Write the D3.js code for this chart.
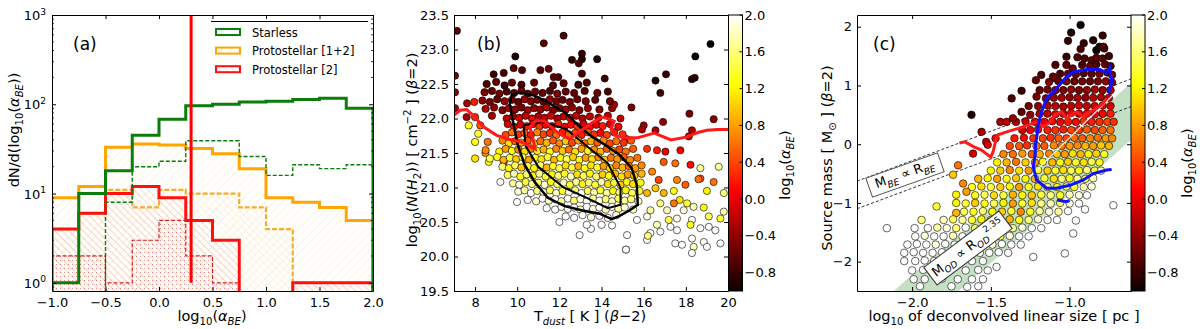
<!DOCTYPE html>
<html>
<head>
<meta charset="utf-8">
<script src="https://cdn.jsdelivr.net/npm/d3@7"></script>
<style>
  body { margin: 0; background: #fff; }
  text { font-family: "DejaVu Sans", sans-serif; }
</style>
</head>
<body>
<svg id="fig" width="1200" height="329"></svg>
<script>
// ---------- panel (a): histograms of log10(alpha_BE) ----------
var binEdges = [-1.0, -0.75, -0.5, -0.25, 0.0, 0.25, 0.5, 0.75, 1.0, 1.25, 1.5, 1.75, 2.0];
var starlessAll = [1, 10, 18, 45, 68, 96, 100, 106, 108, 113, 117, 90];
var starlessSub = [0, 0, 8, 20, 23, 39, 39, 26, 16, 21, 19, 21];
var proto12All = [9, 12, 33, 36, 35, 32, 28, 19, 9, 8, 7, 5];
var proto12Sub = [4, 6, 11, 7, 11, 10, 10, 7, 4, 1, 1, 1];
var proto2All = [4, 6, 10, 12, 9, 5, 3, 0, 0, 1, 1, 1];
var proto2Sub = [2, 2, 1, 3, 5, 2, 1, 0, 0, 0, 0, 0];
var alphaCut = 0.3;
var legendNames = ["Starless", "Protostellar [1+2]", "Protostellar [2]"];
var xTicksA = [-1.0, -0.5, 0.0, 0.5, 1.0, 1.5, 2.0];
var yTicksA = [1, 10, 100, 1000];

// ---------- panel (b): N(H2) vs T_dust ----------
var xTicksB = [8, 10, 12, 14, 16, 18, 20];
var yTicksB = [19.5, 20.0, 20.5, 21.0, 21.5, 22.0, 22.5, 23.0, 23.5];
var redLineB = [[7.0,22.05],[7.3,22.12],[7.6,22.13],[7.9,22.05],[8.4,21.88],[9.0,21.76],[9.6,21.7],[10.2,21.66],
  [10.6,21.6],[10.85,21.56],[10.75,21.7],[10.6,21.88],[10.9,21.97],[11.3,21.96],[11.7,21.85],[12.1,21.76],
  [12.5,21.7],[12.9,21.8],[13.3,21.88],[13.6,21.95],[14.0,22.02],[14.3,22.0],[14.6,21.96],[14.45,21.85],
  [14.6,21.76],[15.05,21.72],[15.7,21.72],[16.5,21.79],[17.3,21.69],[18.0,21.73],[18.6,21.8],[19.0,21.83],
  [19.5,21.84],[20.0,21.84]];
var contourOuterB = [[9.74,22.34],[10.12,22.38],[10.83,22.33],[11.54,22.22],[12.25,22.09],[12.87,21.91],
  [13.44,21.76],[14.15,21.62],[14.86,21.47],[15.43,21.28],[15.67,21.04],[15.72,20.75],[15.34,20.67],
  [14.86,20.59],[14.48,20.54],[13.91,20.62],[13.2,20.66],[12.25,20.73],[11.45,20.85],[10.83,21.08],
  [10.35,21.33],[10.02,21.62],[9.83,21.91],[9.64,22.2],[9.74,22.34]];
var contourInnerB = [[10.3,21.9],[11.2,21.95],[12.3,21.85],[13.3,21.6],[14.3,21.35],[14.9,21.0],[14.9,20.75],
  [14.3,20.7],[13.3,20.85],[12.2,21.0],[11.0,21.3],[10.4,21.6],[10.3,21.9]];
var outliersB = [
  [7.14,23.27,-0.6],[7.05,22.62,-0.5],[7.05,22.38,-0.4],[7.05,22.15,-0.3],[9.91,22.9,-0.9],[8.88,22.64,-0.8],
  [9.36,22.66,-0.7],[9.83,22.73,-0.6],[10.23,22.7,-0.7],[11.26,23.09,-0.6],[12.2,23.2,-0.7],[12.6,22.85,-0.8],
  [13.07,22.94,-0.8],[13.07,22.86,-0.9],[12.92,22.8,-0.7],[11.1,22.7,-0.7],[11.49,22.72,-0.6],[11.73,22.6,-0.6],
  [11.95,22.6,-0.7],[13.07,22.65,-0.7],[13.79,22.86,-0.9],[14.15,22.58,-0.8],[16.56,22.55,-0.9],[17.06,22.64,-0.8],
  [16.79,22.37,-0.8],[18.29,22.57,-0.85],[18.42,22.59,-0.85],[18.45,22.9,-1.0],[19.17,23.08,-1.0],[15.42,22.16,-0.5],
  [18.17,22.07,-0.5],[19.32,21.99,-0.4],[16.92,21.95,-0.4],[16.0,21.9,-0.3],[15.92,21.84,-0.3],[16.56,21.83,-0.3],
  [18.29,21.83,-0.3],[18.14,21.74,-0.2],[14.6,22.2,-0.3],[14.9,22.0,-0.2],[15.2,21.7,-0.1],[7.62,22.22,-0.3],
  [7.96,22.24,0.2],[8.49,21.5,0.8],[8.65,21.37,1.3],[9.36,21.37,0.1],[9.2,21.08,2.0],[9.99,20.79,2.0],
  [12.96,20.31,2.0],[15.16,20.1,2.0],[15.21,20.31,2.0],[12.0,20.5,2.0],[13.5,20.4,2.0],[14.5,20.45,2.0],
  [16.63,21.54,0.2],[17.03,21.52,0.0],[17.74,21.54,0.0],[16.16,21.56,0.3],[16.95,21.37,0.5],[17.5,21.35,0.6],
  [18.22,21.33,0.1],[18.69,21.28,1.7],[19.56,21.3,1.7],[18.69,21.13,0.5],[18.6,21.12,0.6],[19.32,21.08,0.6],
  [17.58,21.11,0.7],[17.98,21.04,0.5],[19.0,20.95,1.2],[19.8,20.92,1.6],[17.43,20.95,1.3],[17.71,20.82,1.1],
  [17.43,20.77,0.6],[18.06,20.77,1.4],[18.37,20.72,1.8],[18.85,20.71,1.3],[19.09,20.58,1.5],[19.64,20.55,1.4],
  [19.8,20.65,1.8],[17.9,20.67,1.9],[18.29,20.53,2.0],[17.58,20.55,1.9],[17.19,20.53,1.5],[17.27,20.43,2.0],
  [17.58,20.38,2.0],[18.22,20.46,1.3],[18.69,20.41,2.0],[19.09,20.43,2.0],[19.4,20.38,2.0],[16.63,20.46,1.8],
  [16.79,20.36,2.0],[16.32,20.34,2.0],[16.16,20.24,2.0],[16.2,20.3,1.6],[17.5,20.19,2.0],[17.82,20.17,2.0],
  [18.29,20.26,2.0],[18.37,20.14,1.8],[18.85,20.21,2.0],[19.0,20.14,2.0],[18.29,20.05,2.0],[19.64,20.19,2.0],
  [15.16,20.1,2.0],[15.68,20.53,2.0],[16.16,20.58,1.9],[16.32,20.67,1.7],[17.11,20.67,1.8],[16.79,20.77,1.6],
  [16.56,20.99,1.0],[16.16,20.92,0.9],[16.95,20.92,0.9],[16.71,21.11,0.4],[16.4,21.23,0.7]];
var cloudB = [
  [8.55,22.5,-0.7],[9.0,22.53,-0.6],[9.4,22.48,-0.8],[9.75,22.52,-0.6],[10.2,22.49,-0.7],[10.8,22.52,-0.6],[11.7,22.48,-0.7],[12.2,22.51,-0.6],[12.9,22.49,-0.8],[13.3,22.52,-0.7],
  [8.45,22.38,-0.5],[8.8,22.4,-0.6],[9.15,22.36,-0.5],[9.5,22.39,-0.7],[9.85,22.37,-0.6],[10.2,22.4,-0.5],[10.5,22.36,-0.6],[10.85,22.39,-0.5],[11.2,22.37,-0.6],[11.55,22.4,-0.7],[11.9,22.36,-0.5],[12.3,22.39,-0.6],[12.7,22.37,-0.6],[13.2,22.4,-0.7],[13.8,22.37,-0.6],[14.3,22.39,-0.7],
  [8.35,22.26,-0.4],[8.7,22.24,-0.5],[9.05,22.28,-0.6],[9.4,22.25,-0.4],[9.75,22.27,-0.5],[10.05,22.24,-0.6],[10.35,22.28,-0.4],[10.65,22.25,-0.5],[10.95,22.27,-0.5],[11.25,22.24,-0.6],[11.55,22.28,-0.4],[11.85,22.25,-0.5],[12.15,22.27,-0.6],[12.5,22.24,-0.5],[12.85,22.28,-0.6],[13.25,22.25,-0.5],[13.7,22.27,-0.6],[14.4,22.25,-0.5],
  [8.5,22.14,-0.3],[8.9,22.16,-0.4],[9.3,22.12,-0.5],[9.6,22.15,-0.3],[9.9,22.13,-0.4],[10.2,22.16,-0.5],[10.5,22.12,-0.3],[10.8,22.15,-0.4],[11.1,22.13,-0.4],[11.4,22.16,-0.3],[11.7,22.12,-0.5],[12.0,22.15,-0.4],[12.3,22.13,-0.3],[12.6,22.16,-0.4],[12.95,22.12,-0.5],[13.35,22.15,-0.4],[13.9,22.13,-0.5],[14.5,22.15,-0.4],
  [7.6,22.02,-0.3],[8.0,22.02,0.3],[8.8,22.04,-0.3],[9.5,22.0,-0.2],[9.8,22.03,-0.3],[10.1,22.01,-0.1],[10.4,22.04,-0.2],[10.7,22.0,0.0],[11.0,22.03,-0.3],[11.3,22.01,-0.2],[11.6,22.04,-0.1],[11.9,22.0,-0.3],[12.2,22.03,-0.2],[12.5,22.01,0.0],[12.8,22.04,-0.2],[13.1,22.0,-0.3],[13.45,22.03,-0.2],[13.85,22.01,-0.3],[14.3,22.04,-0.2],
  [7.7,21.9,1.3],[8.25,21.9,0.5],[9.55,21.92,-0.1],[9.85,21.88,0.1],[10.15,21.91,-0.1],[10.45,21.89,0.2],[10.75,21.92,0.0],[11.05,21.88,0.3],[11.35,21.91,0.1],[11.65,21.89,-0.1],[11.95,21.92,0.2],[12.25,21.88,0.0],[12.55,21.91,0.1],[12.85,21.89,0.3],[13.15,21.92,-0.1],[13.45,21.88,0.1],[13.75,21.91,0.0],[14.05,21.89,0.2],[14.4,21.92,-0.1],[14.8,21.88,0.0],
  [8.15,21.78,1.4],[9.45,21.76,0.4],[9.75,21.8,0.6],[10.05,21.77,0.3],[10.35,21.79,0.5],[10.65,21.76,0.2],[10.95,21.8,0.7],[11.25,21.77,0.4],[11.55,21.79,0.3],[11.85,21.76,0.6],[12.15,21.8,0.2],[12.45,21.77,0.5],[12.75,21.79,0.4],[13.05,21.76,0.2],[13.35,21.8,0.5],[13.65,21.77,0.3],[13.95,21.79,0.1],[14.25,21.76,0.4],[14.6,21.8,0.2],[15.0,21.77,0.3],
  [8.0,21.66,1.3],[8.6,21.66,0.6],[9.3,21.68,0.7],[9.6,21.64,1.1],[9.9,21.67,0.5],[10.2,21.65,0.8],[10.5,21.68,0.4],[10.8,21.64,1.0],[11.1,21.67,0.6],[11.4,21.65,0.9],[11.7,21.68,0.5],[12.0,21.64,0.7],[12.3,21.67,1.0],[12.6,21.65,0.4],[12.9,21.68,0.8],[13.2,21.64,0.6],[13.5,21.67,0.9],[13.8,21.65,0.5],[14.1,21.68,0.7],[14.4,21.64,0.4],[14.7,21.67,0.6],[15.05,21.65,0.3],[15.4,21.68,0.5],
  [8.5,21.54,0.7],[9.15,21.52,1.2],[9.45,21.56,0.8],[9.75,21.53,1.3],[10.05,21.55,0.7],[10.35,21.52,1.1],[10.65,21.56,0.6],[10.95,21.53,1.2],[11.25,21.55,0.9],[11.55,21.52,1.3],[11.85,21.56,0.7],[12.15,21.53,1.0],[12.45,21.55,0.6],[12.75,21.52,1.1],[13.05,21.56,0.8],[13.35,21.53,1.2],[13.65,21.55,0.7],[13.95,21.52,0.9],[14.25,21.56,0.5],[14.55,21.53,0.8],[14.85,21.55,0.4],[15.15,21.52,0.6],[15.5,21.56,0.5],
  [8.0,21.42,1.1],[8.7,21.42,1.5],[9.05,21.44,1.3],[9.35,21.4,0.9],[9.65,21.43,1.4],[9.95,21.41,1.0],[10.25,21.44,1.5],[10.55,21.4,0.8],[10.85,21.43,1.3],[11.15,21.41,1.1],[11.45,21.44,1.4],[11.75,21.4,0.9],[12.05,21.43,1.2],[12.35,21.41,1.5],[12.65,21.44,1.0],[12.95,21.4,1.3],[13.25,21.43,0.8],[13.55,21.41,1.1],[13.85,21.44,0.7],[14.15,21.4,1.0],[14.45,21.43,0.6],[14.75,21.41,0.8],[15.05,21.44,0.5],[15.35,21.4,0.7],[15.7,21.43,0.6],
  [9.3,21.3,1.6],[9.6,21.28,1.2],[9.9,21.32,1.5],[10.2,21.29,1.0],[10.5,21.31,1.4],[10.8,21.28,1.2],[11.1,21.32,1.6],[11.4,21.29,0.9],[11.7,21.31,1.3],[12.0,21.28,1.5],[12.3,21.32,1.1],[12.6,21.29,1.4],[12.9,21.31,0.9],[13.2,21.28,1.3],[13.5,21.32,1.1],[13.8,21.29,1.4],[14.1,21.31,0.8],[14.4,21.28,1.1],[14.7,21.32,0.7],[15.0,21.29,0.9],[15.3,21.31,0.6],[15.6,21.28,0.8],[15.9,21.32,0.7],
  [9.55,21.18,1.5],[9.85,21.2,1.8],[10.15,21.16,1.3],[10.45,21.19,1.6],[10.75,21.17,1.2],[11.05,21.2,1.7],[11.35,21.16,1.4],[11.65,21.19,1.2],[11.95,21.17,1.6],[12.25,21.2,1.3],[12.55,21.16,1.8],[12.85,21.19,1.1],[13.15,21.17,1.5],[13.45,21.2,1.2],[13.75,21.16,1.6],[14.05,21.19,1.0],[14.35,21.17,1.3],[14.65,21.2,0.9],[14.95,21.16,1.1],[15.25,21.19,0.8],[15.55,21.17,1.0],[15.9,21.2,0.9],
  [9.8,21.06,1.7],[10.1,21.04,1.9],[10.4,21.08,1.4],[10.7,21.05,1.7],[11.0,21.07,1.5],[11.3,21.04,1.9],[11.6,21.08,1.3],[11.9,21.05,1.6],[12.2,21.07,1.8],[12.5,21.04,1.4],[12.8,21.08,1.7],[13.1,21.05,1.2],[13.4,21.07,1.6],[13.7,21.04,1.4],[14.0,21.08,1.8],[14.3,21.05,1.1],[14.6,21.07,1.4],[14.9,21.04,1.0],[15.2,21.08,1.2],[15.5,21.05,1.1],[15.85,21.07,1.3],
  [10.05,20.94,1.9],[10.35,20.96,1.7],[10.65,20.92,2.0],[10.95,20.95,1.6],[11.25,20.93,1.9],[11.55,20.96,1.5],[11.85,20.92,1.8],[12.15,20.95,1.4],[12.45,20.93,1.9],[12.75,20.96,1.6],[13.05,20.92,2.0],[13.35,20.95,1.5],[13.65,20.93,1.8],[13.95,20.96,1.4],[14.25,20.92,1.7],[14.55,20.95,1.3],[14.85,20.93,1.6],[15.15,20.96,1.2],[15.45,20.92,1.5],[15.8,20.95,1.4],
  [10.5,20.82,2.0],[10.9,20.8,1.9],[11.2,20.84,2.0],[11.5,20.81,1.8],[11.8,20.83,2.0],[12.1,20.8,1.7],[12.4,20.84,2.0],[12.7,20.81,1.6],[13.0,20.83,1.9],[13.3,20.8,2.0],[13.6,20.84,1.7],[13.9,20.81,1.9],[14.2,20.83,1.6],[14.5,20.8,1.8],[14.8,20.84,1.5],[15.1,20.81,1.7],[15.4,20.83,1.6],[15.75,20.8,1.8],
  [11.4,20.7,2.0],[11.8,20.68,2.0],[12.1,20.72,1.9],[12.4,20.69,2.0],[12.7,20.71,2.0],[13.0,20.68,1.8],[13.3,20.72,2.0],[13.6,20.69,1.9],[13.9,20.71,2.0],[14.2,20.68,1.8],[14.5,20.72,2.0],[14.8,20.69,1.7],[15.1,20.71,1.9],[15.5,20.68,1.8],
  [12.3,20.58,2.0],[12.7,20.56,2.0],[13.1,20.6,2.0],[13.5,20.57,1.9],[13.9,20.59,2.0],[14.3,20.56,2.0],[14.7,20.6,1.9],
  [13.3,20.46,2.0],[14.0,20.46,2.0]];

// ---------- panel (c): source mass vs size ----------
var xTicksC = [-2.0, -1.5, -1.0];
var yTicksC = [-2, -1, 0, 1, 2];
var beSlope = 1.0, beIntercepts = [1.25, 1.72];
var odSlope = 2.35, odIntercepts = [1.5035, 2.4735];
var whiteLineC = [[-1.25,-0.55],[-0.70,0.9]];
var redLineC = [[-1.70,0.02],[-1.665,0.04],[-1.61,-0.04],[-1.56,-0.1],[-1.5,-0.22],[-1.485,-0.12],[-1.47,0.05],
  [-1.454,0.16],[-1.4,0.21],[-1.326,0.27],[-1.26,0.33],[-1.21,0.38],[-1.167,0.3],[-1.125,0.38],[-1.093,0.5],
  [-1.05,0.55],[-1.02,0.44],[-0.987,0.5],[-0.955,0.55],[-0.913,0.47],[-0.87,0.55],[-0.828,0.61],[-0.786,0.7],[-0.765,0.78]];
var blueLineC = [[-0.733,-0.43],[-0.765,-0.44],[-0.85,-0.5],[-0.913,-0.61],[-0.998,-0.7],[-1.083,-0.75],[-1.146,-0.75],
  [-1.21,-0.61],[-1.231,-0.38],[-1.22,-0.21],[-1.215,0.02],[-1.205,0.19],[-1.199,0.33],[-1.178,0.55],[-1.146,0.78],
  [-1.093,0.92],[-1.05,1.05],[-1.019,1.15],[-0.976,1.23],[-0.892,1.27],[-0.807,1.27],[-0.764,1.21],[-0.745,1.3],
  [-0.732,1.07],[-0.753,0.87]];
var blueBitC = [[-1.08,-0.95],[-1.02,-0.98],[-1.0,-0.96]];
var pointsC = [
  [-0.99,1.9,-0.9],[-0.93,2.03,-1.0],
  [-1.01,1.76,-0.8],[-0.91,1.72,-0.8],[-0.85,1.77,-0.9],[-0.79,1.85,-0.8],
  [-0.93,1.62,-0.7],[-0.83,1.6,-1.0],[-0.78,1.63,-0.7],[-0.81,1.66,-0.9],[-0.785,1.66,-0.7],
  [-1.02,1.49,-0.8],[-0.95,1.48,-0.7],[-0.905,1.46,-0.7],[-0.86,1.43,-0.6],[-0.83,1.47,-0.6],[-0.79,1.46,-0.7],[-0.75,1.5,-0.8],
  [-1.09,1.35,-0.7],[-1.02,1.35,-0.6],[-0.98,1.29,-0.6],[-0.92,1.35,-0.7],[-0.87,1.33,-0.6],[-0.83,1.36,-0.7],[-0.775,1.36,-0.6],[-0.74,1.33,-0.7],
  [-1.18,1.18,-0.7],[-1.105,1.15,-0.6],[-1.06,1.2,-0.7],[-1.01,1.2,-0.6],[-0.96,1.19,-0.6],[-0.91,1.21,-0.7],[-0.86,1.2,-0.6],[-0.81,1.2,-0.5],[-0.76,1.22,-0.6],[-0.73,1.18,-0.5],
  [-1.214,1.09,-0.6],[-1.09,1.12,-0.5],[-1.13,1.06,-0.5],[-1.07,1.07,-0.6],[-1.02,1.07,-0.5],[-0.97,1.07,-0.6],[-0.92,1.07,-0.5],[-0.87,1.07,-0.6],[-0.82,1.07,-0.5],[-0.77,1.07,-0.4],[-0.73,1.05,-0.5],
  [-1.305,0.91,-0.8],[-1.19,0.92,-0.6],[-1.14,0.93,-0.5],[-1.09,0.92,-0.4],[-1.04,0.92,-0.5],[-0.99,0.93,-0.4],[-0.94,0.92,-0.5],[-0.89,0.92,-0.4],[-0.84,0.93,-0.3],[-0.79,0.92,-0.4],[-0.74,0.92,-0.3],
  [-1.368,0.78,-0.7],[-1.21,0.81,-0.5],[-1.15,0.78,-0.5],[-1.1,0.79,-0.4],[-1.05,0.79,-0.3],[-1.0,0.8,-0.4],[-0.95,0.79,-0.3],[-0.9,0.79,-0.4],[-0.85,0.79,-0.2],[-0.8,0.8,-0.3],[-0.75,0.79,-0.2],
  [-1.26,0.65,-0.5],[-1.2,0.65,-0.4],[-1.14,0.66,-0.3],[-1.09,0.65,-0.2],[-1.04,0.64,-0.3],[-0.99,0.65,-0.2],[-0.94,0.66,-0.1],[-0.89,0.65,-0.2],[-0.84,0.65,-0.1],[-0.79,0.66,0.0],[-0.74,0.65,-0.1],
  [-1.623,0.5,-0.9],[-1.305,0.55,-0.6],[-1.25,0.5,-0.4],[-1.19,0.52,-0.3],[-1.14,0.52,-0.2],[-1.09,0.51,-0.1],[-1.04,0.52,-0.2],[-0.99,0.53,0.0],[-0.94,0.52,-0.1],[-0.89,0.52,0.1],[-0.84,0.51,0.0],[-0.79,0.52,0.1],[-0.74,0.52,0.2],
  [-1.44,0.38,-0.3],[-1.4,0.38,-0.2],[-1.34,0.38,-0.3],[-1.36,0.44,-0.4],[-1.28,0.39,-0.2],[-1.22,0.38,-0.1],[-1.16,0.38,0.0],[-1.11,0.39,0.1],[-1.06,0.38,0.0],[-1.01,0.38,0.2],[-0.96,0.38,0.1],[-0.91,0.39,0.3],[-0.86,0.38,0.2],[-0.81,0.38,0.3],[-0.76,0.38,0.4],[-0.72,0.38,0.3],
  [-1.559,0.21,-0.3],[-1.3,0.24,-0.1],[-1.25,0.24,0.0],[-1.2,0.25,0.1],[-1.14,0.24,0.2],[-1.09,0.24,0.3],[-1.04,0.25,0.2],[-0.99,0.24,0.4],[-0.94,0.24,0.3],[-0.89,0.25,0.5],[-0.84,0.24,0.4],[-0.79,0.24,0.5],[-0.74,0.24,0.6],
  [-1.47,0.1,0.1],[-1.35,0.1,0.2],[-1.29,0.11,0.1],[-1.23,0.1,0.3],[-1.17,0.1,0.4],[-1.12,0.11,0.3],[-1.07,0.1,0.5],[-1.02,0.1,0.4],[-0.97,0.11,0.6],[-0.92,0.1,0.5],[-0.87,0.1,0.7],[-0.82,0.11,0.6],[-0.77,0.1,0.8],[-0.73,0.1,0.7],
  [-1.53,0.04,-0.2],[-1.52,-0.01,-0.1],[-1.38,-0.03,0.4],[-1.32,-0.03,0.5],[-1.27,-0.02,0.3],[-1.21,-0.03,0.6],[-1.16,-0.03,0.5],[-1.1,-0.02,0.7],[-1.05,-0.03,0.6],[-1.0,-0.03,0.8],[-0.95,-0.02,0.7],[-0.9,-0.03,0.9],[-0.85,-0.03,0.8],[-0.8,-0.02,1.0],[-0.75,-0.03,0.9],
  [-1.613,-0.16,-0.1],[-1.42,-0.17,0.7],[-1.36,-0.17,0.6],[-1.3,-0.16,0.8],[-1.24,-0.17,0.5],[-1.19,-0.17,0.9],[-1.13,-0.16,0.7],[-1.08,-0.17,1.0],[-1.03,-0.17,0.8],[-0.98,-0.16,1.1],[-0.93,-0.17,0.9],[-0.88,-0.17,1.2],[-0.83,-0.16,1.0],[-0.78,-0.17,1.3],
  [-1.46,-0.31,1.2],[-1.4,-0.31,0.9],[-1.34,-0.3,0.6],[-1.28,-0.31,1.0],[-1.22,-0.31,0.8],[-1.17,-0.3,1.2],[-1.11,-0.31,0.9],[-1.06,-0.31,1.3],[-1.01,-0.3,1.0],[-0.96,-0.31,1.4],[-0.91,-0.31,1.1],[-0.86,-0.3,1.5],[-0.81,-0.31,1.3],
  [-1.708,-0.36,0.6],[-1.5,-0.45,1.2],[-1.44,-0.45,1.0],[-1.38,-0.44,0.7],[-1.32,-0.45,1.1],[-1.26,-0.45,0.8],[-1.2,-0.44,1.3],[-1.14,-0.45,1.0],[-1.09,-0.45,1.4],[-1.04,-0.44,1.1],[-0.99,-0.45,1.5],[-0.94,-0.45,1.3],[-0.89,-0.44,1.6],[-0.84,-0.45,1.4],[-0.8,-0.45,1.7],
  [-1.74,-0.52,1.0],[-1.58,-0.59,0.9],[-1.52,-0.58,1.2],[-1.46,-0.59,0.8],[-1.4,-0.59,1.3],[-1.34,-0.58,1.0],[-1.28,-0.59,1.2],[-1.22,-0.59,0.9],[-1.16,-0.58,1.4],[-1.1,-0.59,1.1],[-1.05,-0.59,1.6],[-1.0,-0.58,1.3],[-0.95,-0.59,1.7],[-0.9,-0.59,1.5],[-0.85,-0.58,1.8],
  [-1.676,-0.67,0.7],[-1.62,-0.73,1.3],[-1.56,-0.72,1.1],[-1.5,-0.73,1.4],[-1.44,-0.73,1.0],[-1.38,-0.72,1.2],[-1.32,-0.73,0.8],[-1.26,-0.73,1.3],[-1.2,-0.72,1.1],[-1.14,-0.73,1.5],[-1.08,-0.73,1.2],[-1.02,-0.72,1.6],[-0.97,-0.73,1.4],[-0.91,-0.73,1.8],[-0.86,-0.72,1.9],
  [-1.72,-0.86,1.2],[-1.655,-0.81,0.8],[-1.6,-0.87,1.3],[-1.54,-0.86,1.5],[-1.48,-0.87,1.1],[-1.42,-0.87,1.4],[-1.36,-0.86,0.9],[-1.3,-0.87,1.2],[-1.24,-0.87,1.0],[-1.18,-0.86,1.4],[-1.12,-0.87,1.6],[-1.06,-0.87,1.3],[-1.0,-0.86,1.8],[-0.94,-0.87,1.9],[-0.89,-0.87,2.0],
  [-1.845,-1.06,1.4],[-1.72,-1.0,1.2],[-1.66,-1.01,1.4],[-1.6,-1.0,1.0],[-1.54,-1.01,1.3],[-1.48,-1.01,1.5],[-1.42,-1.0,1.2],[-1.36,-1.01,0.8],[-1.3,-1.01,1.4],[-1.24,-1.0,1.1],[-1.18,-1.01,1.6],[-1.12,-1.01,1.8],[-1.06,-1.0,1.5],[-1.0,-1.01,1.9],[-0.94,-1.01,2.0],
  [-1.72,-1.17,0.9],[-1.67,-1.15,1.5],[-1.61,-1.15,1.3],[-1.55,-1.14,1.6],[-1.49,-1.15,1.2],[-1.43,-1.15,1.0],[-1.37,-1.14,1.4],[-1.31,-1.15,0.7],[-1.25,-1.15,1.3],[-1.19,-1.14,1.7],[-1.13,-1.15,1.9],[-1.07,-1.15,1.7],[-1.01,-1.14,2.0],[-0.902,-1.11,2.0],[-0.722,-1.04,2.0],
  [-1.94,-1.29,1.6],[-1.8,-1.29,1.8],[-1.74,-1.28,1.5],[-1.68,-1.29,1.7],[-1.62,-1.29,1.4],[-1.56,-1.28,1.2],[-1.5,-1.29,1.5],[-1.44,-1.29,1.1],[-1.38,-1.28,0.9],[-1.32,-1.29,1.3],[-1.26,-1.29,1.6],[-1.2,-1.28,1.9],[-1.14,-1.29,2.0],[-1.08,-1.29,2.0],[-0.96,-1.3,2.0],
  [-2.16,-1.43,2.0],[-1.984,-1.43,2.0],[-1.9,-1.43,2.0],[-1.84,-1.42,1.7],[-1.78,-1.43,1.9],[-1.72,-1.43,1.6],[-1.66,-1.42,2.0],[-1.6,-1.43,1.5],[-1.54,-1.43,1.3],[-1.48,-1.42,1.6],[-1.42,-1.43,1.2],[-1.36,-1.43,1.7],[-1.3,-1.42,1.9],[-1.24,-1.43,2.0],[-1.18,-1.43,2.0],
  [-1.98,-1.57,2.0],[-1.92,-1.56,1.9],[-1.86,-1.57,2.0],[-1.8,-1.57,2.0],[-1.74,-1.56,1.8],[-1.68,-1.57,2.0],[-1.62,-1.57,1.9],[-1.56,-1.56,2.0],[-1.5,-1.57,1.7],[-1.44,-1.57,1.5],[-1.38,-1.56,1.9],[-1.32,-1.57,2.0],[-1.26,-1.57,2.0],[-0.977,-1.52,2.0],
  [-2.03,-1.71,2.0],[-1.97,-1.7,2.0],[-1.91,-1.71,2.0],[-1.85,-1.71,1.9],[-1.79,-1.7,2.0],[-1.73,-1.71,2.0],[-1.67,-1.71,1.8],[-1.61,-1.7,2.0],[-1.55,-1.71,2.0],[-1.49,-1.71,1.9],[-1.43,-1.7,2.0],[-1.37,-1.71,2.0],[-1.31,-1.71,2.0],
  [-2.05,-1.85,2.0],[-1.99,-1.84,2.0],[-1.93,-1.85,2.0],[-1.87,-1.85,2.0],[-1.81,-1.84,2.0],[-1.75,-1.85,2.0],[-1.69,-1.85,2.0],[-1.63,-1.84,2.0],[-1.57,-1.85,2.0],[-1.51,-1.85,2.0],[-1.45,-1.84,2.0],[-1.39,-1.85,2.0],[-1.231,-1.92,2.0],[-1.03,-1.86,2.0],
  [-2.05,-1.99,2.0],[-1.98,-1.99,2.0],[-1.92,-1.98,2.0],[-1.86,-1.99,2.0],[-1.74,-1.99,2.0],[-1.68,-1.98,2.0],[-1.62,-1.99,2.0],[-1.55,-1.99,2.0],[-1.464,-2.09,2.0],
  [-2.0,-2.15,2.0],[-1.93,-2.14,2.0],[-1.87,-2.15,2.0],[-1.8,-2.15,2.0],[-1.66,-2.15,2.0],[-1.58,-2.14,2.0],[-1.52,-2.15,2.0],
  [-1.99,-2.3,2.0],[-1.92,-2.3,2.0],[-1.81,-2.29,2.0],[-1.71,-2.3,2.0],[-1.62,-2.3,2.0],[-1.55,-2.3,2.0],
  [-1.95,-2.42,2.0],[-1.75,-2.42,2.0],[-1.65,-2.43,2.0],[-1.58,-2.42,2.0]];

// colour bar
var cDomain = [-1, 2];
var cbTicks = [-0.8, -0.4, 0.0, 0.4, 0.8, 1.2, 1.6, 2.0];

// ================= drawing =================
var svg = d3.select("#fig");
var defs = svg.append("defs");

// matplotlib "hot" map
var hot = d3.scaleLinear().domain([0, 0.365, 0.746, 1]).range(["#0b0000", "#ff0000", "#ffff00", "#ffffff"]);
var cNorm = d3.scaleLinear().domain(cDomain).range([0, 1]).clamp(true);
function cmap(v) { return hot(cNorm(v)); }

var grad = defs.append("linearGradient").attr("id", "hotgrad").attr("x1", 0).attr("y1", 1).attr("x2", 0).attr("y2", 0);
[0, 0.365, 0.746, 1].forEach(function (o) { grad.append("stop").attr("offset", o).attr("stop-color", hot(o)); });

function addClip(id, x0, y0, w, h) {
  defs.append("clipPath").attr("id", id).append("rect").attr("x", x0).attr("y", y0).attr("width", w).attr("height", h);
}

function hatch(id, color, angle, gap, width) {
  var p = defs.append("pattern").attr("id", id).attr("patternUnits", "userSpaceOnUse")
    .attr("width", gap).attr("height", gap).attr("patternTransform", "rotate(" + angle + ")");
  p.append("line").attr("x1", 0).attr("y1", 0).attr("x2", 0).attr("y2", gap)
    .attr("stroke", color).attr("stroke-width", width);
}
function dots(id, color, gap) {
  var p = defs.append("pattern").attr("id", id).attr("patternUnits", "userSpaceOnUse")
    .attr("width", gap).attr("height", gap);
  p.append("rect").attr("x", 0).attr("y", 0).attr("width", 1).attr("height", 1).attr("fill", color);
}
hatch("hO1", "rgba(245,165,20,0.4)", 45, 6, 0.7);
hatch("hO2", "rgba(245,165,20,0.35)", -45, 5, 0.7);
hatch("hR1", "rgba(220,30,30,0.4)", -45, 5, 0.7);
dots("hR2", "rgba(210,30,30,0.5)", 4);

// text with sub/superscripts
function rich(parent, parts, size) {
  var t = parent.append("text").attr("font-size", size);
  var off = 0;
  parts.forEach(function (p) {
    if (typeof p === "string") p = { t: p };
    var shift = p.sub ? 0.3 * size : (p.sup ? -0.42 * size : 0);
    var ts = t.append("tspan").attr("dy", shift - off).text(p.t);
    if (p.sub || p.sup) ts.attr("font-size", size * 0.7);
    if (p.it) ts.attr("font-style", "italic");
    off = shift;
  });
  return t;
}

function frame(g, xs, ys, xt, yt, xf, yf) {
  var x0 = xs.range()[0], x1 = xs.range()[1], y0 = ys.range()[0], y1 = ys.range()[1];
  var styleAxis = function (a) {
    a.attr("font-size", 13).attr("font-family", "DejaVu Sans, sans-serif");
    a.selectAll("text").attr("fill", "#000");
  };
  g.append("g").attr("transform", "translate(0," + y0 + ")")
    .call(d3.axisBottom(xs).tickValues(xt).tickFormat(xf).tickSizeInner(-4).tickSizeOuter(0).tickPadding(7)).call(styleAxis);
  g.append("g").attr("transform", "translate(0," + y1 + ")")
    .call(d3.axisTop(xs).tickValues(xt).tickFormat("").tickSizeInner(-4).tickSizeOuter(0));
  g.append("g").attr("transform", "translate(" + x0 + ",0)")
    .call(d3.axisLeft(ys).tickValues(yt).tickFormat(yf).tickSizeInner(-4).tickSizeOuter(0).tickPadding(5)).call(styleAxis);
  g.append("g").attr("transform", "translate(" + x1 + ",0)")
    .call(d3.axisRight(ys).tickValues(yt).tickFormat("").tickSizeInner(-4).tickSizeOuter(0));
}

function colorbar(x0, w, y0, y1) {
  var cy = d3.scaleLinear().domain(cDomain).range([y1, y0]);
  var g = svg.append("g");
  g.append("rect").attr("x", x0).attr("y", y0).attr("width", w).attr("height", y1 - y0).attr("fill", "url(#hotgrad)");
  g.append("rect").attr("x", x0).attr("y", y0).attr("width", w).attr("height", y1 - y0)
    .attr("fill", "none").attr("stroke", "#000").attr("stroke-width", 1);
  g.selectAll(".cbt").data(cbTicks).enter().append("line")
    .attr("x1", x0 + w - 3).attr("x2", x0 + w).attr("y1", function (d) { return cy(d); }).attr("y2", function (d) { return cy(d); })
    .attr("stroke", "#000");
  g.selectAll(".cbl").data(cbTicks).enter().append("text")
    .attr("x", x0 + w + 2).attr("y", function (d) { return cy(d); }).attr("dy", "0.36em")
    .attr("font-size", 13).text(d3.format(".1f"));
}

function scatter(g, pts, xs, ys, r) {
  g.selectAll(null).data(pts).enter().append("circle")
    .attr("cx", function (d) { return xs(d[0]); })
    .attr("cy", function (d) { return ys(d[1]); })
    .attr("r", r)
    .attr("fill", function (d) { return cmap(d[2]); })
    .attr("stroke", "#000").attr("stroke-width", 0.6);
}

// ---------------- panel (a) ----------------
var xa = d3.scaleLinear().domain([-1, 2]).range([52, 373]);
var ya = d3.scaleLog().domain([0.81, 1000]).range([291, 15]);
addClip("clipA", 52, 15, 321, 276);
var gA = svg.append("g");
var plotA = gA.append("g").attr("clip-path", "url(#clipA)");

function stepPts(counts) {
  var pts = [[binEdges[0], 0.3]];
  counts.forEach(function (c, i) {
    var v = c > 0 ? c : 0.3;
    pts.push([binEdges[i], v]); pts.push([binEdges[i + 1], v]);
  });
  pts.push([binEdges[binEdges.length - 1], 0.3]);
  return pts;
}
var stepLine = d3.line().x(function (d) { return xa(d[0]); }).y(function (d) { return ya(d[1]); });

var histDefs = [
  { c: proto12All, fill: "url(#hO1)", stroke: "#ffa500", w: 3, dash: null },
  { c: proto12Sub, fill: "url(#hO2)", stroke: "#f2ae2e", w: 2.2, dash: "5,2" },
  { c: proto2All, fill: "url(#hR1)", stroke: "#ff1010", w: 3, dash: null },
  { c: proto2Sub, fill: "url(#hR2)", stroke: "#d62020", w: 1.2, dash: "4,2" },
  { c: starlessAll, fill: "none", stroke: "#0a7d0a", w: 3, dash: null },
  { c: starlessSub, fill: "none", stroke: "#0a7d0a", w: 1.4, dash: "4,2" }
];
histDefs.forEach(function (h) {
  if (h.fill !== "none") plotA.append("path").attr("d", stepLine(stepPts(h.c)) + "Z").attr("fill", h.fill).attr("stroke", "none");
});
histDefs.forEach(function (h) {
  plotA.append("path").attr("d", stepLine(stepPts(h.c))).attr("fill", "none")
    .attr("stroke", h.stroke).attr("stroke-width", h.w).attr("stroke-dasharray", h.dash);
});
plotA.append("line").attr("x1", xa(alphaCut)).attr("x2", xa(alphaCut)).attr("y1", ya(1)).attr("y2", ya(1000))
  .attr("stroke", "#ff0000").attr("stroke-width", 3);

frame(gA, xa, ya, xTicksA, yTicksA, d3.format(".1f"), function () { return ""; });
// minor log ticks
var minorA = [];
[1, 10, 100].forEach(function (dec) { for (var k = 2; k <= 9; k++) minorA.push(dec * k); });
minorA.push(0.9);
minorA.forEach(function (v) {
  gA.append("line").attr("x1", 52).attr("x2", 54).attr("y1", ya(v)).attr("y2", ya(v)).attr("stroke", "#000").attr("stroke-width", 0.8);
  gA.append("line").attr("x1", 371).attr("x2", 373).attr("y1", ya(v)).attr("y2", ya(v)).attr("stroke", "#000").attr("stroke-width", 0.8);
});
yTicksA.forEach(function (v, i) {
  rich(gA, ["10", { t: String(i), sup: true }], 13).attr("x", 46).attr("y", ya(v) + 5).attr("text-anchor", "end");
});

// legend
var legG = gA.append("g");
legG.append("line").attr("x1", 211).attr("x2", 368).attr("y1", 21.5).attr("y2", 21.5).attr("stroke", "#000").attr("stroke-width", 1);
var legStyles = [
  { stroke: "#0a7d0a", fill: "#fff" },
  { stroke: "#ffa500", fill: "url(#hO1)" },
  { stroke: "#ff1010", fill: "url(#hR1)" }
];
legendNames.forEach(function (n, i) {
  var y = 29 + i * 18.6;
  legG.append("rect").attr("x", 216).attr("y", y).attr("width", 24).attr("height", 6)
    .attr("fill", legStyles[i].fill).attr("stroke", legStyles[i].stroke).attr("stroke-width", 2);
  legG.append("text").attr("x", 252).attr("y", y + 7.5).attr("font-size", 11.5).text(n);
});
gA.append("text").attr("x", 73).attr("y", 50).attr("font-size", 17).text("(a)");
rich(gA, ["log", { t: "10", sub: true }, "(", { t: "α", it: true }, { t: "BE", sub: true, it: true }, ")"], 14.5)
  .attr("x", 212).attr("y", 321).attr("text-anchor", "middle");
rich(gA, ["dN/d(log", { t: "10", sub: true }, "(", { t: "α", it: true }, { t: "BE", sub: true, it: true }, "))"], 14.5)
  .attr("text-anchor", "middle").attr("transform", "translate(19,130) rotate(-90)");

// ---------------- panel (b) ----------------
var xb = d3.scaleLinear().domain([7, 20]).range([454, 728]);
var yb = d3.scaleLinear().domain([19.5, 23.5]).range([291, 15]);
addClip("clipB", 454, 15, 274, 276);
var gB = svg.append("g");
var plotB = gB.append("g").attr("clip-path", "url(#clipB)");
scatter(plotB, outliersB, xb, yb, 3.6);
scatter(plotB, cloudB, xb, yb, 3.7);
var lineB = d3.line().x(function (d) { return xb(d[0]); }).y(function (d) { return yb(d[1]); }).curve(d3.curveLinear);
plotB.append("path").attr("d", lineB(contourOuterB)).attr("fill", "none").attr("stroke", "#000").attr("stroke-width", 2.5);
plotB.append("path").attr("d", lineB(contourInnerB)).attr("fill", "none").attr("stroke", "#000").attr("stroke-width", 2);
plotB.append("path").attr("d", lineB(redLineB)).attr("fill", "none").attr("stroke", "#ff1a1a").attr("stroke-width", 3);
frame(gB, xb, yb, xTicksB, yTicksB, d3.format("d"), d3.format(".1f"));
colorbar(728.5, 14, 15, 291);
gB.append("text").attr("x", 477).attr("y", 50).attr("font-size", 17).text("(b)");
rich(gB, ["T", { t: "dust", sub: true, it: true }, " [ K ] (", { t: "β", it: true }, "−2)"], 14.5)
  .attr("x", 590).attr("y", 321).attr("text-anchor", "middle");
rich(gB, ["log", { t: "10", sub: true }, "(", { t: "N", it: true }, "(", { t: "H", it: true }, { t: "2", sub: true }, ")) [ cm",
  { t: "−2", sup: true }, " ] (", { t: "β", it: true }, "=2)"], 14.5)
  .attr("text-anchor", "middle").attr("transform", "translate(417,150) rotate(-90)");
rich(gB, ["log", { t: "10", sub: true }, "(", { t: "α", it: true }, { t: "BE", sub: true, it: true }, ")"], 14.5)
  .attr("text-anchor", "middle").attr("transform", "translate(790,165) rotate(-90)");

// ---------------- panel (c) ----------------
var xc = d3.scaleLinear().domain([-2.35, -0.61]).range([857, 1131]);
var yc = d3.scaleLinear().domain([-2.5, 2.2]).range([291, 15]);
addClip("clipC", 857, 15, 274, 276);
var gC = svg.append("g");
var plotC = gC.append("g").attr("clip-path", "url(#clipC)");
var lineC = d3.line().x(function (d) { return xc(d[0]); }).y(function (d) { return yc(d[1]); });
var xd = xc.domain();
var band = [[xd[0], odSlope * xd[0] + odIntercepts[1]], [xd[1], odSlope * xd[1] + odIntercepts[1]],
            [xd[1], odSlope * xd[1] + odIntercepts[0]], [xd[0], odSlope * xd[0] + odIntercepts[0]]];
plotC.append("path").attr("d", lineC(band) + "Z").attr("fill", "#c4e0c4").attr("stroke", "none");
beIntercepts.forEach(function (b) {
  plotC.append("path").attr("d", lineC([[xd[0], beSlope * xd[0] + b], [xd[1], beSlope * xd[1] + b]]))
    .attr("stroke", "#000").attr("stroke-width", 0.8).attr("stroke-dasharray", "3,2").attr("fill", "none");
});
scatter(plotC, pointsC, xc, yc, 3.8);
plotC.append("path").attr("d", lineC(whiteLineC)).attr("stroke", "#fff").attr("stroke-width", 1.5).attr("opacity", 0.8);
plotC.append("path").attr("d", lineC(redLineC)).attr("fill", "none").attr("stroke", "#ff1a1a").attr("stroke-width", 3);
plotC.append("path").attr("d", lineC(blueLineC)).attr("fill", "none").attr("stroke", "#1010ff").attr("stroke-width", 3);
plotC.append("path").attr("d", lineC(blueBitC)).attr("fill", "none").attr("stroke", "#1010ff").attr("stroke-width", 3);

// relation boxes
var beBox = gC.append("g").attr("transform", "translate(905,175) rotate(-19.5)");
beBox.append("rect").attr("x", -38).attr("y", -10).attr("width", 76).attr("height", 20)
  .attr("fill", "#fff").attr("stroke", "#555").attr("stroke-width", 1);
rich(beBox, ["M", { t: "BE", sub: true, it: true }, " ∝ R", { t: "BE", sub: true, it: true }], 13)
  .attr("x", 0).attr("y", 3).attr("text-anchor", "middle");
var odBox = gC.append("g").attr("transform", "translate(968,248) rotate(-37)");
odBox.append("rect").attr("x", -47).attr("y", -11).attr("width", 94).attr("height", 22)
  .attr("fill", "#fff").attr("stroke", "#333").attr("stroke-width", 1);
rich(odBox, ["M", { t: "OD", sub: true, it: true }, " ∝ R", { t: "OD", sub: true, it: true }, { t: "2.35", sup: true }], 13)
  .attr("x", 0).attr("y", 4).attr("text-anchor", "middle");

frame(gC, xc, yc, xTicksC, yTicksC, d3.format(".1f"), d3.format("d"));
colorbar(1131, 14, 15, 291);
gC.append("text").attr("x", 873).attr("y", 50).attr("font-size", 17).text("(c)");
rich(gC, ["log", { t: "10", sub: true }, " of deconvolved linear size [ pc ]"], 14.5)
  .attr("x", 1004).attr("y", 321).attr("text-anchor", "middle");
rich(gC, ["Source mass [ M", { t: "⊙", sub: true }, " ] (", { t: "β", it: true }, "=2)"], 14.5)
  .attr("text-anchor", "middle").attr("transform", "translate(832,158) rotate(-90)");
rich(gC, ["log", { t: "10", sub: true }, "(", { t: "α", it: true }, { t: "BE", sub: true, it: true }, ")"], 14.5)
  .attr("text-anchor", "middle").attr("transform", "translate(1192,163) rotate(-90)");
</script>
</body>
</html>
